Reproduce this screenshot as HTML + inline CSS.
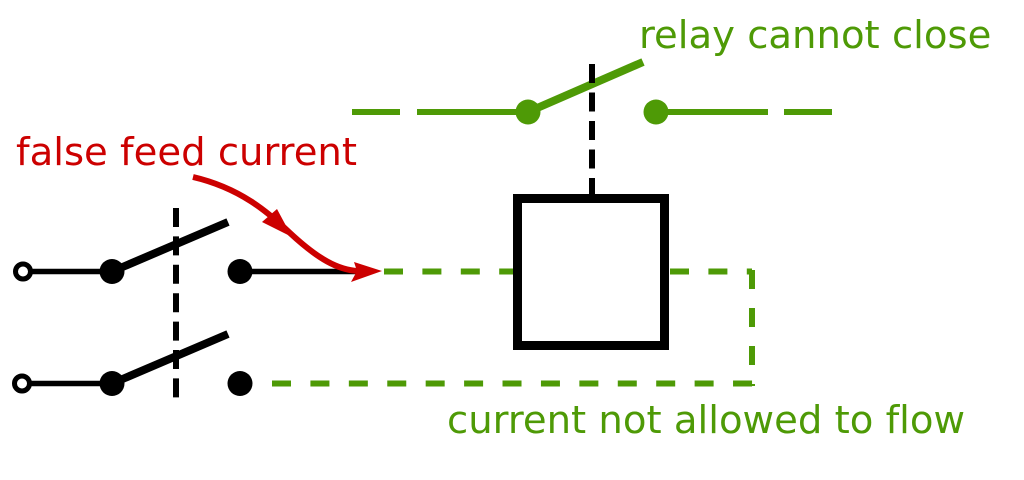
<!DOCTYPE html>
<html>
<head>
<meta charset="utf-8">
<style>
html,body{margin:0;padding:0;background:#fff;}
svg{display:block;}
text{font-family:"DejaVu Sans","Liberation Sans",sans-serif;font-size:38.6px;font-variant-ligatures:none;}
</style>
</head>
<body>
<svg width="1024" height="480" viewBox="0 0 1024 480" xmlns="http://www.w3.org/2000/svg">
  <rect width="1024" height="480" fill="#fff"/>

  <!-- Top relay contact (green) -->
  <g stroke="#4e9a06" stroke-width="6" fill="none">
    <line x1="352" y1="112" x2="400" y2="112"/>
    <line x1="417" y1="112" x2="528" y2="112"/>
    <line x1="656" y1="112" x2="768" y2="112"/>
    <line x1="784" y1="112" x2="832" y2="112"/>
    <line x1="528" y1="112" x2="643" y2="62" stroke-width="8"/>
  </g>
  <circle cx="528" cy="112" r="12.5" fill="#4e9a06"/>
  <circle cx="656" cy="112" r="12.5" fill="#4e9a06"/>

  <!-- relay mechanical link -->
  <line x1="592" y1="64" x2="592" y2="196" stroke="#000" stroke-width="6" stroke-dasharray="19 9.5"/>

  <!-- Green dashed paths -->
  <g stroke="#4e9a06" stroke-width="6" fill="none">
    <line x1="384" y1="271.5" x2="515" y2="271.5" stroke-dasharray="19 19.4"/>
    <line x1="670" y1="271.5" x2="752" y2="271.5" stroke-dasharray="19 19.4"/>
    <line x1="752" y1="270" x2="752" y2="386" stroke-dasharray="19 19"/>
    <line x1="272" y1="383.5" x2="755" y2="383.5" stroke-dasharray="19 19.42"/>
  </g>

  <!-- Relay coil box -->
  <rect x="517.5" y="198.5" width="147" height="147" fill="#fff" stroke="#000" stroke-width="9"/>

  <!-- Black switches -->
  <g stroke="#000" fill="none">
    <line x1="23" y1="271.5" x2="112" y2="271.5" stroke-width="5.5"/>
    <line x1="240" y1="271.5" x2="372" y2="271.5" stroke-width="5.5"/>
    <line x1="112" y1="271.5" x2="228" y2="222" stroke-width="8"/>
    <line x1="22" y1="383.5" x2="112" y2="383.5" stroke-width="5.5"/>
    <line x1="112" y1="383.5" x2="228" y2="334" stroke-width="8"/>
    <line x1="176" y1="208" x2="176" y2="400" stroke-width="6" stroke-dasharray="19 9.4"/>
  </g>
  <circle cx="23" cy="271.5" r="7.5" fill="#fff" stroke="#000" stroke-width="5"/>
  <circle cx="22" cy="383.5" r="7.5" fill="#fff" stroke="#000" stroke-width="5"/>
  <circle cx="112" cy="271.5" r="12.5" fill="#000"/>
  <circle cx="240" cy="271.5" r="12.5" fill="#000"/>
  <circle cx="112" cy="383.5" r="12.5" fill="#000"/>
  <circle cx="240" cy="383.5" r="12.5" fill="#000"/>

  <!-- Red false feed arrow -->
  <path d="M193,177 C240,188 268,212 290,233 C318,259 338,270 358,271" stroke="#cc0000" stroke-width="6" fill="none"/>
  <polygon points="292,237 262,222 277,209" fill="#cc0000"/>
  <polygon points="382,271 351,282 357,271 354,262" fill="#cc0000"/>

  <!-- Labels -->
  <text x="639" y="48" fill="#4e9a06">relay cannot close</text>
  <text x="16" y="165" fill="#cc0000">false feed current</text>
  <text x="447" y="433" fill="#4e9a06">current not allowed to flow</text>
</svg>
</body>
</html>
